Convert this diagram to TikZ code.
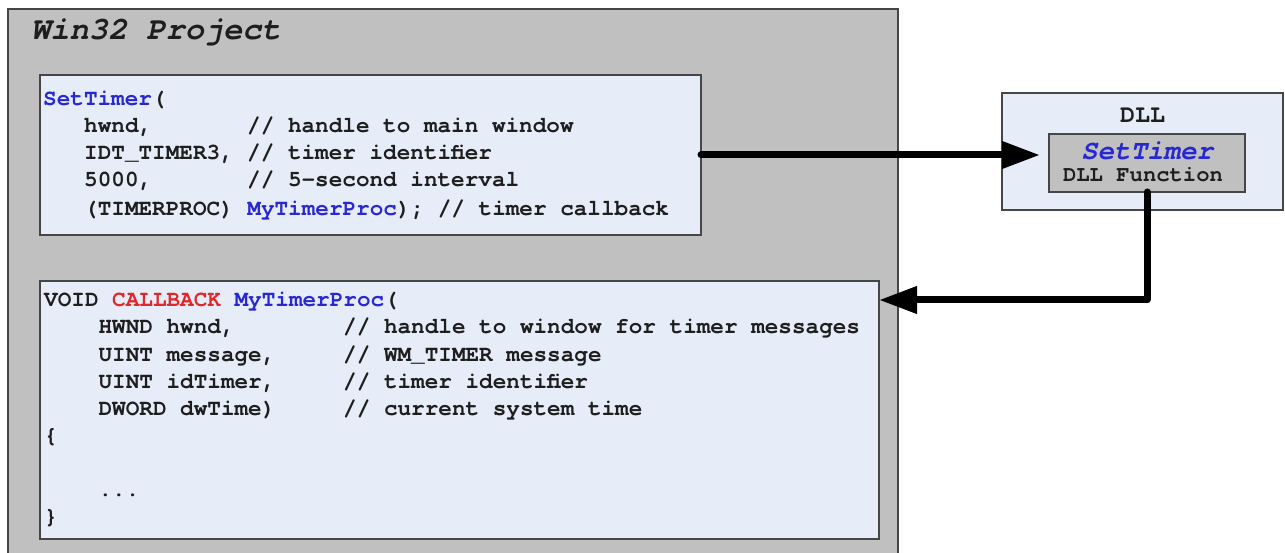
\documentclass[tikz,border=0pt]{standalone}
\usepackage{fontspec}
\newfontfamily\cur{texgyrecursor}[Extension=.otf, UprightFont=*-regular, BoldFont=*-bold, ItalicFont=*-italic, BoldItalicFont=*-bolditalic]
\usetikzlibrary{arrows.meta}
\definecolor{boxblue}{RGB}{230,236,248}
\definecolor{pgray}{RGB}{192,192,192}
\definecolor{bordergray}{RGB}{70,70,70}
\definecolor{kwblue}{RGB}{40,40,210}
\definecolor{kwred}{RGB}{225,40,40}
\definecolor{txt}{RGB}{30,30,30}
\begin{document}
\begin{tikzpicture}[x=1pt,y=-1pt,
  code/.style={anchor=base west, inner sep=0pt, text=txt, font=\cur\bfseries\fontsize{22.67}{27}\selectfont},
  panel/.style={draw=bordergray, line width=1.6pt, anchor=north west, inner sep=0pt, outer sep=0pt},
  conn/.style={line width=7pt, line cap=round, line join=round, -{Triangle[length=38pt,width=26pt]}}]
\useasboundingbox (0,0) rectangle (1285,553);
\begin{scope}
\clip (0,0) rectangle (1285,553);
\node[panel, fill=pgray, line width=2pt, minimum width=890pt, minimum height=560pt] (proj) at (8,9) {};
\end{scope}
\node[anchor=base west, inner sep=0pt, text=txt, font=\cur\bfseries\itshape\fontsize{32}{36}\selectfont] (title) at (31,39.5) {Win32 Project};

% top code box
\node[panel, fill=boxblue, minimum width=661pt, minimum height=160pt] (top) at (40,75) {};
\node[code] (t1) at (43,106) {\textcolor{kwblue}{SetTimer}(};
\node[code] (t2) at (84,133) {hwnd,};
\node[code] (t2c) at (247,133) {// handle to main window};
\node[code] (t3) at (84,160) {IDT\_TIMER3,};
\node[code] (t3c) at (247,160) {// timer identifier};
\node[code] (t4) at (84,187) {5000,};
\node[code] (t4c) at (247,187) {// 5-second interval};
\node[code] (t5) at (84,216) {(TIMERPROC) \textcolor{kwblue}{MyTimerProc}); // timer callback};

% bottom code box
\node[panel, fill=boxblue, minimum width=839pt, minimum height=258pt] (bot) at (40,281) {};
\node[code] (b1) at (44,307) {VOID \textcolor{kwred}{CALLBACK} \textcolor{kwblue}{MyTimerProc}(};
\node[code] (b2) at (98.4,334) {HWND hwnd,};
\node[code] (b2c) at (343,334) {// handle to window for timer messages};
\node[code] (b3) at (98.4,361) {UINT message,};
\node[code] (b3c) at (343,361) {// WM\_TIMER message};
\node[code] (b4) at (98.4,388) {UINT idTimer,};
\node[code] (b4c) at (343,388) {// timer identifier};
\node[code] (b5) at (98.4,415) {DWORD dwTime)};
\node[code] (b5c) at (343,415) {// current system time};
\node[code] (b6) at (44,442) {\{};
\node[code] (b7) at (98.4,496) {...};
\node[code] (b8) at (44,523) {\}};

% DLL box
\node[panel, fill=boxblue, minimum width=281pt, minimum height=117pt] (dll) at (1002,93) {};
\node[anchor=base, inner sep=0pt, text=txt, font=\cur\bfseries\fontsize{25}{29}\selectfont] (dlltitle) at (1142.5,123) {DLL};
\node[panel, fill=pgray, minimum width=196pt, minimum height=58pt] (inner) at (1049,134) {};
\node[anchor=base, inner sep=0pt, text=kwblue, font=\cur\bfseries\itshape\fontsize{27.5}{31}\selectfont] (fname) at (1147,159.5) {SetTimer};
\node[anchor=base, inner sep=0pt, text=txt, font=\cur\bfseries\fontsize{22.2}{26}\selectfont] (fdesc) at (1143,182) {DLL Function};

% connectors
\draw[conn] (top.east) -- ([xshift=-9pt]inner.west |- top.east);
\coordinate (ret) at (879,300);
\draw[conn] (inner.south) |- (ret);
\end{tikzpicture}
\end{document}
